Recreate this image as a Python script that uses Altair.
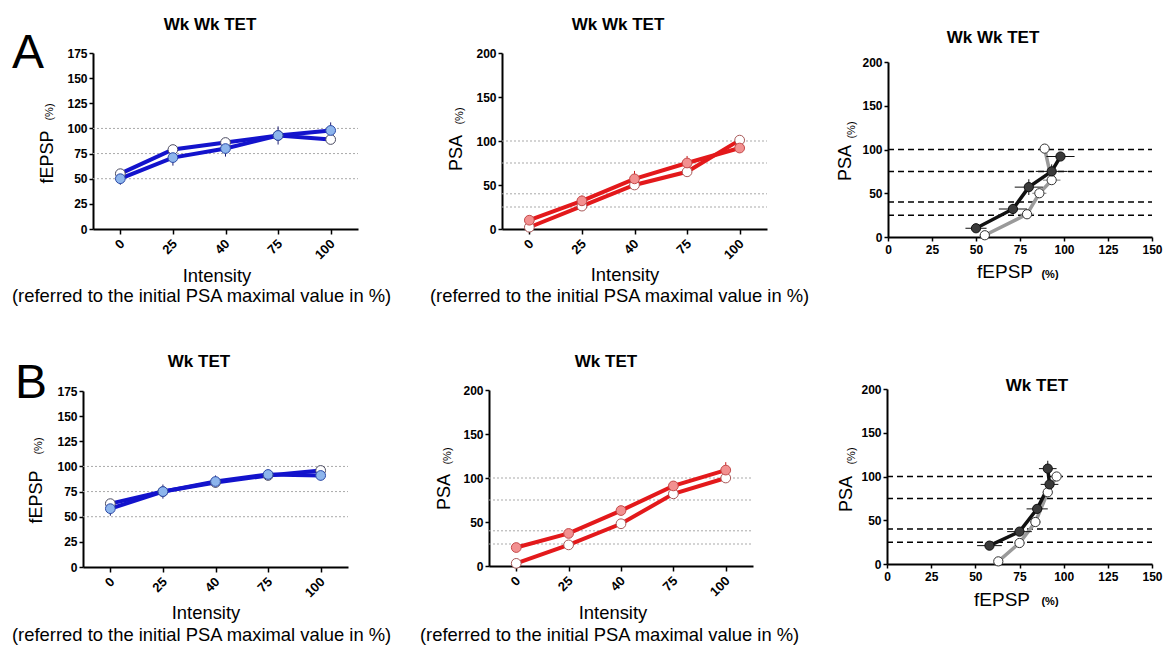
import altair as alt
import pandas as pd

FONT = "Liberation Sans"

# Stimulus intensities shown on the x axis of the input/output panels
intensity_labels = ["0", "25", "40", "75", "100"]

# ---- Row A: Wk Wk TET ----------------------------------------------------
a_fepsp_pre = [55, 79, 86, 93, 89]
a_fepsp_pre_sem = [3, 4, 4, 5, 3]
a_fepsp_post = [50, 71, 80, 93, 98]
a_fepsp_post_sem = [6, 8, 8, 9, 8]
a_psa_pre = [2, 26, 50, 65, 101]
a_psa_pre_sem = [1, 3, 3, 3, 2]
a_psa_post = [10, 32, 57, 75, 92]
a_psa_post_sem = [3, 6, 9, 8, 4]

# ---- Row B: Wk TET -------------------------------------------------------
b_fepsp_pre = [63, 75, 84, 91, 96]
b_fepsp_pre_sem = [2, 3, 3, 3, 3]
b_fepsp_post = [58, 75, 85, 92, 91]
b_fepsp_post_sem = [7, 7, 6, 5, 5]
b_psa_pre = [3, 24, 48, 82, 100]
b_psa_pre_sem = [1, 2, 2, 3, 2]
b_psa_post = [21, 37, 63, 91, 109]
b_psa_post_sem = [4, 3, 5, 5, 9]

# Reference levels drawn across the panels
fepsp_guides = [50, 75, 100]
psa_guides = [25, 40, 75, 100]

XDOM = [-0.52, 4.52]

AXIS_STYLE = dict(
    labelFont=FONT, labelFontSize=12, labelFontWeight="bold", labelColor="black",
    labelOverlap=False, labelFlush=False, domainColor="black", domainWidth=2,
    tickColor="black", tickWidth=1.5, title=None, grid=False,
)

tick_frame = pd.DataFrame({"idx": list(range(len(intensity_labels))),
                           "lab": intensity_labels})


def build_frame(fe_pre, fe_pre_sem, fe_post, fe_post_sem,
                psa_pre, psa_pre_sem, psa_post, psa_post_sem):
    rows = []
    for i in range(len(intensity_labels)):
        rows.append({"idx": i, "series": "pre",
                     "fepsp": fe_pre[i], "fepsp_sem": fe_pre_sem[i],
                     "psa": psa_pre[i], "psa_sem": psa_pre_sem[i]})
        rows.append({"idx": i, "series": "post",
                     "fepsp": fe_post[i], "fepsp_sem": fe_post_sem[i],
                     "psa": psa_post[i], "psa_sem": psa_post_sem[i]})
    df = pd.DataFrame(rows)
    for c in ("fepsp", "psa"):
        df[c + "_lo"] = df[c] - df[c + "_sem"]
        df[c + "_hi"] = df[c] + df[c + "_sem"]
    return df


df_a = build_frame(a_fepsp_pre, a_fepsp_pre_sem, a_fepsp_post, a_fepsp_post_sem,
                   a_psa_pre, a_psa_pre_sem, a_psa_post, a_psa_post_sem)
df_b = build_frame(b_fepsp_pre, b_fepsp_pre_sem, b_fepsp_post, b_fepsp_post_sem,
                   b_psa_pre, b_psa_pre_sem, b_psa_post, b_psa_post_sem)

BLUE = {"line": "#1313cc", "fill": "#8db5ec", "edge": "#2c4aa8",
        "bar": "#1c1c70", "open_edge": "#4a4a60"}
RED = {"line": "#e3191b", "fill": "#f29090", "edge": "#c44a4a",
       "bar": "#c81a1a", "open_edge": "#a85858"}


def text(t, x, y, size, weight="normal", angle=0, align="center",
         baseline="middle"):
    return alt.Chart(alt.Data(values=[{}])).mark_text(
        text=t, fontSize=size, fontWeight=weight, align=align,
        baseline=baseline, color="black", font=FONT,
    ).encode(x=alt.value(x), y=alt.value(y), angle=alt.value(angle))


def y_title(word, wx, wy, px, py):
    # rotated axis title: large word plus a small "(%)"
    return [text(word, wx, wy, 18, angle=270),
            text("(%)", px, py, 11, angle=270)]


def intensity_panel(df, field, ymax, ystep, guides, style, ml, mt, w, h, extra):
    xs = alt.Scale(domain=XDOM, range=[ml, ml + w], nice=False, zero=False)
    ys = alt.Scale(domain=[0, ymax], range=[mt + h, mt], nice=False, zero=True)
    xax = alt.Axis(values=list(range(len(intensity_labels))), labels=False,
                   tickSize=5, **AXIS_STYLE)
    yax = alt.Axis(values=list(range(0, ymax + 1, ystep)), offset=-ml,
                   tickSize=4, labelPadding=2, **AXIS_STYLE)

    def X(f="idx"):
        return alt.X(f"{f}:Q", scale=xs, axis=xax)

    def Y(f):
        return alt.Y(f"{f}:Q", scale=ys, axis=yax)

    base = alt.Chart(df)

    grid = alt.Chart(pd.DataFrame({"g": guides})).mark_rule(
        color="#a9a9a9", strokeDash=[2, 2], strokeWidth=1
    ).encode(y=Y("g"), x=alt.X(datum=XDOM[0], scale=xs, axis=xax),
             x2=alt.X2(datum=XDOM[1]))

    lines = base.mark_line(color=style["line"], strokeWidth=4).encode(
        x=X(), y=Y(field), detail="series:N", order="idx:Q")

    bars = base.mark_rule(color=style["bar"], strokeWidth=1).encode(
        x=X(), y=Y(f"{field}_lo"), y2=f"{field}_hi:Q")

    pre = base.transform_filter("datum.series == 'pre'").mark_point(
        shape="circle", filled=True, size=95, fill="white",
        stroke=style["open_edge"], strokeWidth=1, opacity=1,
    ).encode(x=X(), y=Y(field))

    post = base.transform_filter("datum.series == 'post'").mark_point(
        shape="circle", filled=True, size=95, fill=style["fill"],
        stroke=style["edge"], strokeWidth=1, opacity=1,
    ).encode(x=X(), y=Y(field))

    # slanted category labels under the x axis
    ticks = alt.Chart(tick_frame).mark_text(
        align="right", baseline="middle", fontSize=13,
        fontWeight="bold", font=FONT, color="black", dx=3,
    ).encode(x=X(), y=alt.value(mt + h + 15), text="lab:N",
             angle=alt.value(315))

    return alt.layer(grid, lines, bars, pre, post, ticks, *extra).properties(
        width=ml + w, height=mt + h)


def scatter_panel(df, ml, mt, w, h, extra):
    xs = alt.Scale(domain=[0, 150], range=[ml, ml + w], nice=False, zero=True)
    ys = alt.Scale(domain=[0, 200], range=[mt + h, mt], nice=False, zero=True)
    xax = alt.Axis(values=list(range(0, 151, 25)), tickSize=4, labelPadding=3,
                   **AXIS_STYLE)
    yax = alt.Axis(values=list(range(0, 201, 50)), offset=-ml, tickSize=4,
                   labelPadding=2, **AXIS_STYLE)

    def X(f):
        return alt.X(f"{f}:Q", scale=xs, axis=xax)

    def Y(f):
        return alt.Y(f"{f}:Q", scale=ys, axis=yax)

    guides = alt.Chart(pd.DataFrame({"g": psa_guides})).mark_rule(
        color="black", strokeDash=[6, 4], strokeWidth=1.5
    ).encode(y=Y("g"), x=alt.X(datum=0, scale=xs, axis=xax), x2=alt.X2(datum=150))

    layers = [guides]
    spec = {
        "pre": {"line": "#9a9a9a", "bar": "#7a7a7a", "fill": "white", "edge": "#333333"},
        "post": {"line": "#111111", "bar": "#111111", "fill": "#3a3a3a", "edge": "#111111"},
    }
    for s in ("pre", "post"):
        sub = alt.Chart(df).transform_filter(f"datum.series == '{s}'")
        layers.append(sub.mark_line(color=spec[s]["line"], strokeWidth=3.5).encode(
            x=X("fepsp"), y=Y("psa"), order="idx:Q"))
    for s in ("pre", "post"):
        sub = alt.Chart(df).transform_filter(f"datum.series == '{s}'")
        layers.append(sub.mark_rule(color=spec[s]["bar"], strokeWidth=1).encode(
            x=X("fepsp_lo"), x2="fepsp_hi:Q", y=Y("psa")))
        layers.append(sub.mark_rule(color=spec[s]["bar"], strokeWidth=1).encode(
            x=X("fepsp"), y=Y("psa_lo"), y2="psa_hi:Q"))
    for s in ("pre", "post"):
        sub = alt.Chart(df).transform_filter(f"datum.series == '{s}'")
        layers.append(sub.mark_point(
            shape="circle", filled=True, size=85, fill=spec[s]["fill"],
            stroke=spec[s]["edge"], strokeWidth=1, opacity=1,
        ).encode(x=X("fepsp"), y=Y("psa")))

    return alt.layer(*layers, *extra).properties(width=ml + w, height=mt + h)


SUB = "(referred to the initial PSA maximal value in %)"
TS = 18.4  # size of the x-axis title lines

a1 = intensity_panel(
    df_a, "fepsp", 175, 25, fepsp_guides, BLUE, 10, 0, 265, 176,
    [text("Wk Wk TET", 127, -28, 17, "bold"),
     text("A", -71, 15, 48, align="left", baseline="alphabetic"),
     *y_title("fEPSP", -35, 104, -33, 59),
     text("Intensity", 134, 223, TS),
     text(SUB, -71, 243, TS, align="left")])

a2 = intensity_panel(
    df_a, "psa", 200, 50, psa_guides, RED, 24, 0, 265, 176,
    [text("Wk Wk TET", 140, -28, 17, "bold"),
     *y_title("PSA", -21, 100, -18, 63),
     text("Intensity", 147, 222, TS),
     text(SUB, -48, 243, TS, align="left")])

a3 = scatter_panel(
    df_a, 1, 9, 264, 175,
    [text("Wk Wk TET", 106, -15, 17, "bold"),
     *y_title("PSA", -41, 110, -35, 77),
     text("fEPSP", 118, 219, 19),
     text("(%)", 163, 222, 11, "bold")])

b1 = intensity_panel(
    df_b, "fepsp", 175, 25, fepsp_guides, BLUE, 0, 2, 265, 176,
    [text("Wk TET", 116, -27, 17, "bold"),
     text("B", -68, 9, 48, align="left", baseline="alphabetic"),
     *y_title("fEPSP", -46, 108, -44, 57),
     text("Intensity", 123, 224, TS),
     text(SUB, -71, 246, TS, align="left")])

b2 = intensity_panel(
    df_b, "psa", 200, 50, psa_guides, RED, 11, 1, 264, 176,
    [text("Wk TET", 128, -27, 17, "bold"),
     *y_title("PSA", -33, 103, -30, 67),
     text("Intensity", 135, 224, TS),
     text(SUB, -58, 246, TS, align="left")])

b3 = scatter_panel(
    df_b, 0, 0, 265, 175,
    [text("Wk TET", 150, -3, 17, "bold"),
     *y_title("PSA", -40, 105, -35, 67),
     text("fEPSP", 115, 211, 19),
     text("(%)", 163, 213, 11, "bold")])

chart = alt.concat(
    a1, a2, a3, b1, b2, b3, columns=3, bounds="flush",
    spacing={"row": 152, "column": 120},
).properties(
    padding={"left": 12, "top": 16, "right": 0, "bottom": 0},
).configure(
    font=FONT,
).configure_view(
    stroke=None,
)

chart.save("out.html", embed_options={"renderer": "svg", "actions": False})
